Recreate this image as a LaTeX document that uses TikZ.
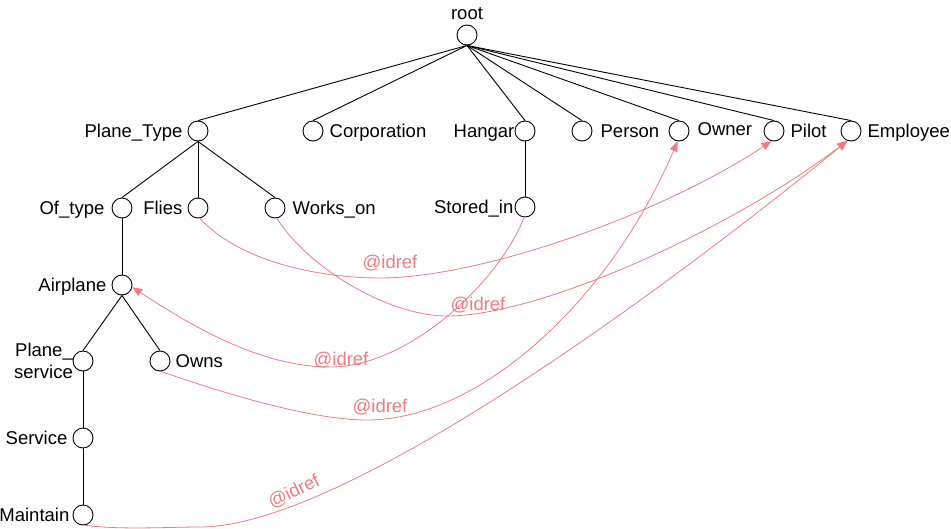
\documentclass[tikz,border=0pt]{standalone}
\usepackage{fontspec}
\setmainfont{Liberation Sans}
\usetikzlibrary{arrows.meta}
\definecolor{idred}{RGB}{240,122,128}
\begin{document}
\begin{tikzpicture}[x=1pt,y=-1pt,
  c/.style={circle,draw,line width=0.9pt,minimum size=20pt,inner sep=0pt},
  lbl/.style={inner sep=0pt,font=\fontsize{18.5}{22}\selectfont},
  edge/.style={line width=0.9pt},
  ref/.style={draw=idred,line width=0.8pt,-{Triangle[length=10pt,width=8pt]}},
  reflbl/.style={lbl,text=idred}]
\useasboundingbox (0,0) rectangle (951,528);
% circles
\node[c] (nRoot) at (467,35) {};
\node[c] (nPT) at (198,131) {};
\node[c] (nCorp) at (313,131) {};
\node[c] (nHangar) at (525,131) {};
\node[c] (nPerson) at (582,131) {};
\node[c] (nOwner) at (679,131) {};
\node[c] (nPilot) at (774,131) {};
\node[c] (nEmp) at (851,131) {};
\node[c] (nOft) at (122,208) {};
\node[c] (nFlies) at (198,208) {};
\node[c] (nWorks) at (275,208) {};
\node[c] (nStored) at (525,207) {};
\node[c] (nAir) at (122,285) {};
\node[c] (nPS) at (83,361) {};
\node[c] (nOwns) at (160,361) {};
\node[c] (nServ) at (83,438) {};
\node[c] (nMaint) at (83,515) {};
% labels
\node[lbl,anchor=base] (tRoot) at ([yshift=5pt]nRoot.north) {root};
\node[lbl,anchor=base east] (tPT) at ([xshift=-5pt,yshift=-6pt]nPT.west) {Plane\_Type};
\node[lbl,anchor=base west] (tCorp) at ([xshift=6pt,yshift=-6pt]nCorp.east) {Corporation};
\node[lbl,anchor=base east] (tHangar) at ([xshift=0pt,yshift=-6pt]nHangar.west) {Hangar};
\node[lbl,anchor=base west] (tPerson) at ([xshift=8pt,yshift=-6pt]nPerson.east) {Person};
\node[lbl,anchor=base west] (tOwner) at ([xshift=8pt,yshift=-4pt]nOwner.east) {Owner};
\node[lbl,anchor=base west] (tPilot) at ([xshift=6pt,yshift=-6pt]nPilot.east) {Pilot};
\node[lbl,anchor=base west] (tEmp) at ([xshift=6pt,yshift=-6pt]nEmp.east) {Employee};
\node[lbl,anchor=base east] (tOft) at ([xshift=-7pt,yshift=-6pt]nOft.west) {Of\_type};
\node[lbl,anchor=base east] (tFlies) at ([xshift=-5pt,yshift=-6pt]nFlies.west) {Flies};
\node[lbl,anchor=base west] (tWorks) at ([xshift=7pt,yshift=-6pt]nWorks.east) {Works\_on};
\node[lbl,anchor=base east] (tStored) at ([xshift=-1pt,yshift=-6pt]nStored.west) {Stored\_in};
\node[lbl,anchor=base east] (tAir) at ([xshift=-5pt,yshift=-6pt]nAir.west) {Airplane};
\node[lbl,anchor=north east,align=right] (tPS) at (73,343) {Plane\_\\service};
\node[lbl,anchor=base west] (tOwns) at ([xshift=5pt,yshift=-6pt]nOwns.east) {Owns};
\node[lbl,anchor=base east] (tServ) at ([xshift=-5pt,yshift=-6pt]nServ.west) {Service};
\node[lbl,anchor=base east] (tMaint) at ([xshift=-3pt,yshift=-6pt]nMaint.west) {Maintain};
% tree edges
\foreach \n in {nPT,nCorp,nHangar,nPerson,nOwner,nPilot,nEmp}
  \draw[edge] (nRoot.south) -- (\n.north);
\foreach \n in {nOft,nFlies,nWorks}
  \draw[edge] (nPT.south) -- (\n.north);
\draw[edge] (nHangar.south) -- (nStored.north);
\draw[edge] (nOft.south) -- (nAir.north);
\draw[edge] (nAir.south) -- (nPS.north);
\draw[edge] (nAir.south) -- (nOwns.north);
\draw[edge] (nPS.south) -- (nServ.north);
\draw[edge] (nServ.south) -- (nMaint.north);
% idref curves
\draw[ref] (nFlies.-80) .. controls (240,262) and (320,278) .. (380,278)
  .. controls (480,278) and (660,215) .. (nPilot.-104);
\draw[ref] (nWorks.-80) .. controls (310,270) and (390,316) .. (447,316)
  .. controls (540,316) and (730,230) .. (nEmp.-110);
\draw[ref] (nStored.-95) .. controls (500,280) and (410,367) .. (330,367)
  .. controls (260,367) and (190,325) .. (nAir.-12);
\draw[ref] (nOwns.-85) .. controls (220,392) and (310,420) .. (367,420)
  .. controls (480,420) and (610,300) .. (nOwner.-98);
\draw[ref] (nMaint.-80) .. controls (120,530) and (170,527) .. (200,527)
  .. controls (350,527) and (689,270) .. (nEmp.-110);
% idref labels
\node[reflbl] (i1) at (390,263) {@idref};
\node[reflbl] (i2) at (478,305) {@idref};
\node[reflbl] (i3) at (341,360) {@idref};
\node[reflbl] (i4) at (380,407) {@idref};
\node[reflbl,rotate=26] (i5) at (294,492) {@idref};
\end{tikzpicture}
\end{document}
